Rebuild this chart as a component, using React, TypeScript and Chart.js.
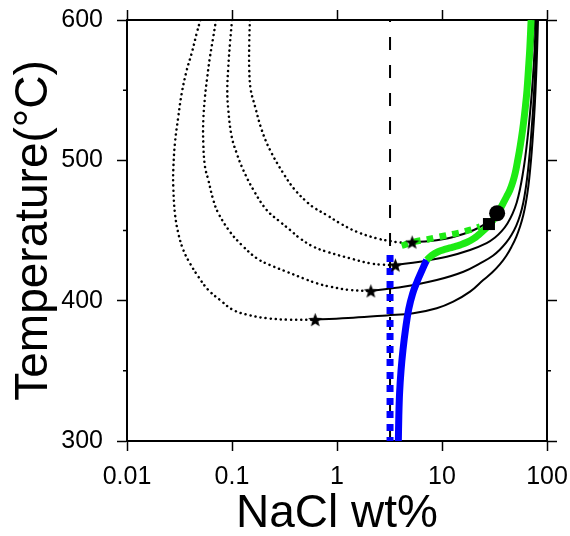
import React, { useEffect, useRef } from 'react';
import { Chart, registerables } from 'chart.js';

Chart.register(...registerables);

const FONT = '"Liberation Sans", Arial, Helvetica, sans-serif';

// axis ticks
const xTickValues = [0.01, 0.1, 1, 10, 100];
const xTickLabels = ['0.01', '0.1', '1', '10', '100'];
const yTickValues = [300, 400, 500, 600];
const yMinorTicks = [350, 450, 550];

// vapour branches (dotted), [NaCl wt%, T °C]
const vaporA = [[0.05, 600], [0.0461, 590.5], [0.0413, 576.3], [0.0371, 564.4], [0.0332, 547.8], [0.0308, 531.1], [0.0286, 512.1], [0.0276, 493.1], [0.0276, 481.2], [0.0286, 462.3], [0.0308, 448.0], [0.0344, 436.1], [0.0398, 426.6], [0.0478, 417.1], [0.0595, 407.6], [0.0769, 400.5], [0.103, 393.3], [0.148, 389.6], [0.214, 387.5], [0.357, 386.4], [0.62, 386.5]];
const vaporB = [[0.0705, 600], [0.0664, 588.1], [0.0617, 573.8], [0.0582, 559.6], [0.0553, 545.3], [0.0533, 528.7], [0.0533, 512.1], [0.0553, 495.5], [0.0595, 486.0], [0.0664, 471.7], [0.0741, 462.3], [0.0957, 449.1], [0.1237, 439.7], [0.172, 430.2], [0.23, 425.4], [0.332, 420.6], [0.478, 415.9], [0.641, 412.4], [0.858, 410.0], [1.33, 407.6], [2.1, 407.0]];
const vaporC = [[0.1, 600], [0.0957, 583.4], [0.0922, 566.7], [0.0902, 550.1], [0.0922, 535.9], [0.0994, 516.8], [0.1109, 505.0], [0.128, 493.1], [0.16, 478.9], [0.214, 464.6], [0.286, 456.3], [0.357, 450.4], [0.444, 444.4], [0.595, 438.5], [0.798, 434.9], [1.33, 430.2], [2.06, 426.6], [2.76, 425.6], [3.6, 425.4]];
const vaporD = [[0.148, 600], [0.146, 583.4], [0.146, 564.4], [0.151, 550.1], [0.166, 538.2], [0.192, 521.6], [0.23, 507.4], [0.308, 490.8], [0.398, 478.9], [0.533, 469.4], [0.617, 465.8], [0.798, 461.0], [1.07, 455.1], [1.54, 449.1], [2.39, 444.4], [3.2, 442.5], [3.98, 441.5], [5.2, 441.8]];

// liquid branches (solid)
const liquidA = [[0.62, 386.5], [1.43, 387.8], [2.97, 389.5], [5.33, 391.0], [8.91, 394.6], [12.8, 399.3], [18.5, 406.4], [24.7, 414.7], [30.0, 420.0], [35.7, 426.0], [41.0, 432.0], [46.0, 438.5], [51.0, 445.5], [55.5, 453.0], [59.5, 461.0], [63.0, 470.0], [66.3, 481.0], [69.0, 493.0], [71.5, 506.0], [74.0, 521.6], [76.6, 540], [78.8, 560], [80.6, 580], [82.1, 600]];
const liquidB = [[2.1, 407.0], [4.28, 409.9], [8.91, 414.7], [16.0, 420.6], [24.7, 427.8], [30.5, 432.0], [35.7, 436.5], [41.0, 441.5], [46.0, 447.0], [51.0, 453.5], [55.5, 461.0], [59.5, 470.0], [63.0, 481.0], [66.0, 493.0], [68.6, 506.0], [71.3, 521.6], [74.2, 540], [76.6, 560], [78.6, 580], [80.3, 600]];
const liquidC = [[3.6, 425.4], [6.17, 427.8], [11.1, 431.3], [18.5, 436.1], [26.6, 441.0], [32.0, 445.0], [37.0, 449.5], [42.0, 455.0], [47.0, 462.0], [51.5, 470.0], [55.5, 480.0], [59.0, 491.0], [62.0, 502.0], [65.3, 516.0], [68.8, 533], [72.0, 550], [74.8, 568], [76.9, 585], [78.6, 600]];
const liquidD = [[5.2, 441.8], [7.7, 442.5], [12.8, 445.4], [19.9, 450.2], [26.6, 455.3], [30.0, 458.8], [33.5, 462.8], [38.0, 468.8], [43.0, 476.5], [48.0, 485.5], [52.5, 496.0], [56.5, 508.0], [60.0, 521.0], [63.8, 537], [67.6, 555], [71.0, 573], [74.0, 588], [76.5, 600]];

// critical points (stars)
const criticalPoints = [[0.62, 386.5], [2.1, 407.0], [3.6, 425.4], [5.2, 441.8]];

// vertical reference line
const dashedLine = [[3.2, 600], [3.2, 300]];

// blue paths
const blueDotted = [[3.2, 432.5], [3.2, 300]];
const blueSolid = [[3.84, 300], [3.88, 318], [3.95, 335], [4.07, 350], [4.25, 365], [4.5, 380], [4.82, 394], [5.25, 405], [5.75, 413], [6.35, 420.5], [7.14, 429.0]];

// green paths
const greenDotted = [[4.13, 439.2], [5.53, 442.1], [7.41, 443.8], [10.3, 446.1], [13.8, 448.0], [18.5, 450.4], [23.0, 452.8]];
const greenSolid = [[7.14, 429.0], [8.0, 432.3], [9.17, 434.9], [10.8, 436.7], [12.7, 438.2], [15.0, 439.8], [17.3, 441.6], [20.0, 444.2], [22.5, 447.2], [25.0, 450.2], [27.4, 453.2], [30.0, 456.5], [32.5, 460.2], [35.3, 464.5], [38.1, 469.2], [41.3, 474.2], [44.4, 479.0], [47.2, 484.5], [49.8, 491.0], [52.0, 498.0], [54.4, 506.0], [57.0, 515.5], [59.6, 526.0], [62.2, 538.0], [64.5, 550], [66.6, 565], [68.6, 580], [70.6, 600]];

// markers
const squarePoint = [[28.0, 454.6]];
const circlePoint = [[33.5, 462.3]];

const GREEN = 'rgb(30,235,20)';
const BLUE = 'rgb(0,0,255)';

const toXY = (arr: number[][]) => arr.map(([x, y]) => ({ x, y }));

function makeStar(size: number) {
  const c = document.createElement('canvas');
  c.width = size;
  c.height = size;
  const g = c.getContext('2d')!;
  const cx = size / 2;
  const cy = size / 2 + 0.8;
  const R = size / 2;
  const r = R * 0.42;
  g.beginPath();
  for (let i = 0; i < 10; i++) {
    const ang = -Math.PI / 2 + (i * Math.PI) / 5;
    const rad = i % 2 === 0 ? R : r;
    g.lineTo(cx + rad * Math.cos(ang), cy + rad * Math.sin(ang));
  }
  g.closePath();
  g.fillStyle = '#000';
  g.fill();
  return c;
}

const zeroPad = (s: any) => {
  s.paddingLeft = 0;
  s.paddingRight = 0;
  s.paddingTop = 0;
  s.paddingBottom = 0;
};

const minorTickPlugin = {
  id: 'minorTicks',
  afterDraw(chart: any) {
    const { ctx, chartArea } = chart;
    const y = chart.scales.y;
    ctx.save();
    ctx.strokeStyle = '#000';
    ctx.lineWidth = 1.5;
    yMinorTicks.forEach((v) => {
      const p = y.getPixelForValue(v);
      ctx.beginPath();
      ctx.moveTo(chartArea.left - 4, p);
      ctx.lineTo(chartArea.left, p);
      ctx.moveTo(chartArea.right, p);
      ctx.lineTo(chartArea.right + 4, p);
      ctx.stroke();
    });
    ctx.restore();
  },
};

export default function App() {
  const ref = useRef<HTMLCanvasElement | null>(null);

  useEffect(() => {
    if (!ref.current) return;
    const star = makeStar(15);

    const dotted = (data: number[][]) => ({
      data: toXY(data),
      showLine: true,
      borderColor: '#000',
      borderWidth: 2.5,
      borderDash: [0.1, 5],
      borderCapStyle: 'round',
      pointRadius: 0,
      tension: 0.4,
      order: 10,
    });
    const solid = (data: number[][]) => ({
      data: toXY(data),
      showLine: true,
      borderColor: '#000',
      borderWidth: 2,
      pointRadius: 0,
      tension: 0.4,
      order: 10,
    });

    const chart = new Chart(ref.current, {
      type: 'scatter',
      data: {
        datasets: [
          dotted(vaporA),
          dotted(vaporB),
          dotted(vaporC),
          dotted(vaporD),
          solid(liquidA),
          solid(liquidB),
          solid(liquidC),
          solid(liquidD),
          {
            data: toXY(dashedLine),
            showLine: true,
            borderColor: '#000',
            borderWidth: 2,
            borderDash: [13, 15],
            borderDashOffset: 11,
            pointRadius: 0,
            order: 9,
          },
          {
            data: toXY(blueDotted),
            showLine: true,
            borderColor: BLUE,
            borderWidth: 7,
            borderDash: [7, 6],
            borderCapStyle: 'butt',
            pointRadius: 0,
            order: 8,
          },
          {
            data: toXY(blueSolid),
            showLine: true,
            borderColor: BLUE,
            borderWidth: 7,
            pointRadius: 0,
            tension: 0.4,
            order: 7,
          },
          {
            data: toXY(greenDotted),
            showLine: true,
            borderColor: GREEN,
            borderWidth: 6.5,
            borderDash: [6.5, 6.5],
            borderCapStyle: 'butt',
            pointRadius: 0,
            tension: 0.4,
            order: 6,
          },
          {
            data: toXY(greenSolid),
            showLine: true,
            borderColor: GREEN,
            borderWidth: 7,
            pointRadius: 0,
            tension: 0.4,
            order: 5,
          },
          {
            data: toXY(criticalPoints),
            showLine: false,
            pointStyle: star as any,
            pointRadius: 7,
            order: 3,
          },
          {
            data: toXY(squarePoint),
            showLine: false,
            pointStyle: 'rect',
            pointRadius: 8.5,
            pointBackgroundColor: '#000',
            pointBorderWidth: 0,
            order: 2,
          },
          {
            data: toXY(circlePoint),
            showLine: false,
            pointStyle: 'circle',
            pointRadius: 8,
            pointBackgroundColor: '#000',
            pointBorderWidth: 0,
            order: 1,
          },
        ] as any,
      },
      options: {
        animation: false,
        responsive: false,
        devicePixelRatio: 1,
        events: [],
        layout: { padding: 0 },
        plugins: {
          legend: { display: false },
          tooltip: { enabled: false },
        },
        scales: {
          x: {
            type: 'logarithmic',
            position: 'bottom',
            min: 0.01,
            max: 100,
            afterBuildTicks: (s: any) => {
              s.ticks = xTickValues.map((v) => ({ value: v }));
            },
            afterFit: (s: any) => {
              s.height = 95;
              zeroPad(s);
            },
            ticks: {
              autoSkip: false,
              maxRotation: 0,
              minRotation: 0,
              padding: 11,
              color: '#000',
              font: { family: FONT, size: 25 },
              callback: (_v: any, i: number) => xTickLabels[i],
            },
            grid: { drawOnChartArea: false, drawTicks: true, tickLength: 10, tickColor: '#000', tickWidth: 1.5 },
            border: { display: true, color: '#000', width: 2 },
            title: {
              display: true,
              text: 'NaCl wt%',
              color: '#000',
              font: { family: FONT, size: 46, lineHeight: 0.9 },
              padding: { top: 0, bottom: 1 },
            },
          },
          x2: {
            type: 'logarithmic',
            position: 'top',
            min: 0.01,
            max: 100,
            afterBuildTicks: (s: any) => {
              s.ticks = xTickValues.map((v) => ({ value: v }));
            },
            afterFit: (s: any) => {
              s.height = 20;
              zeroPad(s);
            },
            ticks: { display: false },
            grid: { drawOnChartArea: false, drawTicks: true, tickLength: 10, tickColor: '#000', tickWidth: 1.5 },
            border: { display: true, color: '#000', width: 2 },
          },
          y: {
            type: 'linear',
            position: 'left',
            min: 300,
            max: 600,
            afterBuildTicks: (s: any) => {
              s.ticks = yTickValues.map((v) => ({ value: v }));
            },
            afterFit: (s: any) => {
              s.width = 127;
              zeroPad(s);
            },
            ticks: {
              padding: 14,
              color: '#000',
              font: { family: FONT, size: 25 },
              callback: (v: any) => String(v),
            },
            grid: { drawOnChartArea: false, drawTicks: true, tickLength: 10, tickColor: '#000', tickWidth: 1.5 },
            border: { display: true, color: '#000', width: 2 },
            title: {
              display: true,
              text: 'Temperature(°C)',
              color: '#000',
              font: { family: FONT, size: 46, lineHeight: 0.9 },
              padding: { top: 14, bottom: 0 },
            },
          },
          y2: {
            type: 'linear',
            position: 'right',
            min: 300,
            max: 600,
            afterBuildTicks: (s: any) => {
              s.ticks = yTickValues.map((v) => ({ value: v }));
            },
            afterFit: (s: any) => {
              s.width = 23;
              zeroPad(s);
            },
            ticks: { display: false },
            grid: { drawOnChartArea: false, drawTicks: true, tickLength: 10, tickColor: '#000', tickWidth: 1.5 },
            border: { display: true, color: '#000', width: 2 },
          },
        },
      } as any,
      plugins: [minorTickPlugin],
    });

    return () => chart.destroy();
  }, []);

  return (
    <div style={{ position: 'absolute', left: 0, top: 0, width: 570, height: 536, background: '#fff' }}>
      <canvas ref={ref} width={570} height={536} style={{ display: 'block', width: 570, height: 536 }} />
    </div>
  );
}
